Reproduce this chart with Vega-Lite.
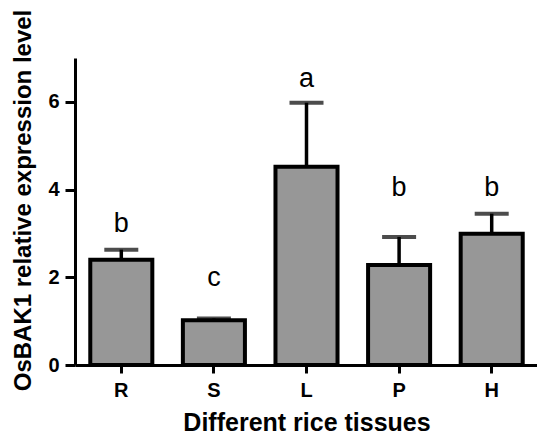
{
  "$schema": "https://vega.github.io/schema/vega-lite/v6.json",
  "autosize": "none",
  "width": 463,
  "height": 307,
  "padding": {"left": 75, "top": 58, "right": 0, "bottom": 71},
  "background": "white",
  "config": {
    "view": {"stroke": null},
    "font": "Liberation Sans",
    "axis": {"grid": false, "domainColor": "black", "tickColor": "black", "labelColor": "black", "titleColor": "black", "labelFont": "Liberation Sans", "titleFont": "Liberation Sans", "labelFontWeight": "bold", "titleFontWeight": "bold"}
  },
  "data": {"values": [
    {"tissue": "R", "mean": 2.40, "upper": 2.63, "letter": "b", "letterY": 3.03},
    {"tissue": "S", "mean": 1.02, "upper": 1.06, "letter": "c", "letterY": 1.80},
    {"tissue": "L", "mean": 4.52, "upper": 5.98, "letter": "a", "letterY": 6.34},
    {"tissue": "P", "mean": 2.28, "upper": 2.92, "letter": "b", "letterY": 3.85},
    {"tissue": "H", "mean": 2.99, "upper": 3.45, "letter": "b", "letterY": 3.85}
  ]},
  "encoding": {
    "x": {"field": "tissue", "type": "nominal", "sort": null,
      "scale": {"paddingInner": 0.33, "paddingOuter": 0.165},
      "axis": {"title": "Different rice tissues", "labelAngle": 0, "labelFontSize": 20, "titleFontSize": 25, "domainWidth": 3, "tickWidth": 3, "tickSize": 8, "labelPadding": 7, "titlePadding": 10}}
  },
  "layer": [
    {
      "mark": {"type": "rule", "strokeWidth": 3.5, "color": "black"},
      "encoding": {"y": {"field": "mean", "type": "quantitative"}, "y2": {"field": "upper"}}
    },
    {
      "mark": {"type": "tick", "size": 34, "thickness": 4, "color": "black", "orient": "horizontal"},
      "encoding": {"y": {"field": "upper", "type": "quantitative"}}
    },
    {
      "mark": {"type": "bar", "fill": "#979797", "stroke": "black", "strokeWidth": 4},
      "encoding": {
        "y": {"field": "mean", "type": "quantitative",
          "scale": {"domain": [0, 7], "nice": false},
          "axis": {"title": "OsBAK1 relative expression level", "values": [0, 2, 4, 6], "labelFontSize": 20, "titleFontSize": 24, "domainWidth": 3, "tickWidth": 3, "tickSize": 10, "labelPadding": 6, "titlePadding": 12, "titleY": 142}}
      }
    },
    {
      "mark": {"type": "text", "fontSize": 27, "fontWeight": "normal", "baseline": "alphabetic", "color": "black", "font": "Liberation Sans"},
      "encoding": {"y": {"field": "letterY", "type": "quantitative"}, "text": {"field": "letter"}}
    }
  ]
}
